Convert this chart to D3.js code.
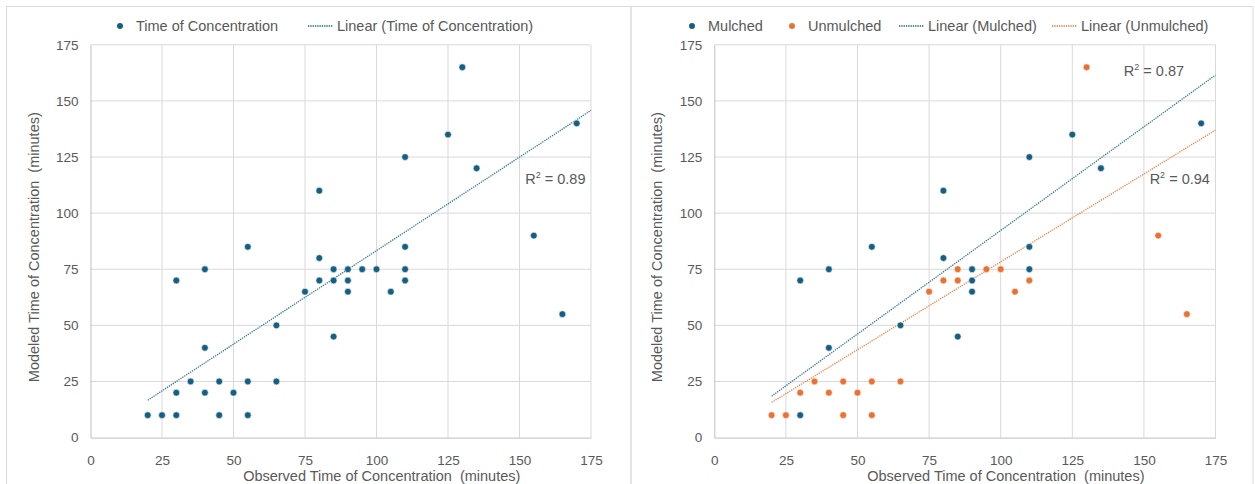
<!DOCTYPE html>
<html>
<head>
<meta charset="utf-8">
<script src="https://cdn.jsdelivr.net/npm/d3@7"></script>
<style>
  body { margin: 0; background: #fff; }
  svg { display: block; font-family: "Liberation Sans", Arial, sans-serif; }
  text { white-space: pre; }
</style>
</head>
<body>
<svg id="chart" width="1255" height="484"></svg>
<script>
// Observed vs modeled time of concentration (minutes)
const mulchedObserved = [30, 30, 40, 40, 55, 65, 80, 80, 85, 90, 90, 90, 110, 110, 110, 125, 135, 170];
const mulchedModeled  = [10, 70, 40, 75, 85, 50, 80, 110, 45, 65, 70, 75, 75, 85, 125, 135, 120, 140];

const unmulchedObserved = [20, 25, 45, 55, 30, 40, 50, 35, 45, 55, 65, 75, 80, 85, 85, 95, 100, 105, 110, 130, 155, 165];
const unmulchedModeled  = [10, 10, 10, 10, 20, 20, 20, 25, 25, 25, 25, 65, 70, 70, 75, 75, 75, 65, 70, 165, 90, 55];

// trendlines (through origin), slopes
const trendSlopeAll = 0.833;
const trendSlopeMulched = 0.923;
const trendSlopeUnmulched = 0.783;
const trendRange = [20, 175];
const rSquared = ["0.89", "0.87", "0.94"];

const ticks = [0, 25, 50, 75, 100, 125, 150, 175];

const blue = "#156082";
const orange = "#E97132";
const textColor = "#595959";
const gridColor = "#D9D9D9";

const svg = d3.select("#chart");

// panel frames
svg.append("rect").attr("x", 6.5).attr("y", 6.5).attr("width", 624.5).attr("height", 490)
    .attr("fill", "none").attr("stroke", gridColor);
svg.append("rect").attr("x", 631).attr("y", 6.5).attr("width", 622).attr("height", 490)
    .attr("fill", "none").attr("stroke", gridColor);

const zip = (xs, ys) => xs.map((x, i) => ({ x: x, y: ys[i] }));
const allPoints = zip(mulchedObserved, mulchedModeled).concat(zip(unmulchedObserved, unmulchedModeled));

function drawPanel(left, right, series, trends, labels) {
    const x = d3.scaleLinear().domain([0, 175]).range([left, right]);
    const y = d3.scaleLinear().domain([0, 175]).range([437.6, 44.8]);
    const g = svg.append("g");

    // gridlines
    g.selectAll(".hgrid").data(ticks.slice(1)).enter().append("line")
        .attr("x1", x(0)).attr("x2", x(175))
        .attr("y1", d => y(d)).attr("y2", d => y(d))
        .attr("stroke", gridColor).attr("stroke-width", 1);
    g.selectAll(".vgrid").data(ticks.slice(1)).enter().append("line")
        .attr("x1", d => x(d)).attr("x2", d => x(d))
        .attr("y1", y(0)).attr("y2", y(175))
        .attr("stroke", gridColor).attr("stroke-width", 1);

    // axes
    const xAxis = d3.axisBottom(x).tickValues(ticks).tickSize(0).tickPadding(18);
    const yAxis = d3.axisLeft(y).tickValues(ticks).tickSize(0).tickPadding(12);
    const gx = g.append("g").attr("transform", `translate(0,${y(0)})`).call(xAxis);
    const gy = g.append("g").attr("transform", `translate(${x(0)},0)`).call(yAxis);
    [gx, gy].forEach(a => {
        a.select(".domain").attr("stroke", "#BFBFBF");
        a.selectAll("text").attr("fill", textColor).style("font-size", "13.5px");
    });

    // axis titles (Excel puts them a little off the plot centre)
    g.append("text").attr("x", (x(0) + x(175)) / 2 + 41).attr("y", 481)
        .attr("text-anchor", "middle").attr("fill", textColor).style("font-size", "14.5px")
        .text("Observed Time of Concentration  (minutes)");
    g.append("text")
        .attr("transform", `translate(${x(0) - 52},${(y(0) + y(175)) / 2 + 6}) rotate(-90)`)
        .attr("text-anchor", "middle").attr("fill", textColor).style("font-size", "14.5px")
        .text("Modeled Time of Concentration  (minutes)");

    // trendlines
    trends.forEach(t => {
        g.append("line")
            .attr("x1", x(trendRange[0])).attr("y1", y(trendRange[0] * t.slope))
            .attr("x2", x(trendRange[1])).attr("y2", y(trendRange[1] * t.slope))
            .attr("stroke", t.color).attr("stroke-width", 1.3)
            .attr("stroke-dasharray", "1.3,1").attr("opacity", 0.85);
    });

    // points
    series.forEach(s => {
        g.selectAll(null).data(s.points).enter().append("circle")
            .attr("cx", d => x(d.x)).attr("cy", d => y(d.y)).attr("r", 3.4)
            .attr("fill", s.color).attr("stroke", "#fff").attr("stroke-width", 0.6);
    });

    // R² labels
    labels.forEach(l => {
        const t = g.append("text").attr("x", x(l.x)).attr("y", y(l.y))
            .attr("fill", textColor).style("font-size", "14.5px");
        t.append("tspan").text("R");
        t.append("tspan").attr("dy", -6).style("font-size", "9px").text("2");
        t.append("tspan").attr("dy", 6).text(" = " + l.text);
    });
    return g;
}

drawPanel(90.5, 591, [{ points: allPoints, color: blue }],
    [{ slope: trendSlopeAll, color: blue }],
    [{ x: 152, y: 113.2, text: rSquared[0] }]);

drawPanel(714.3, 1215.5,
    [{ points: zip(mulchedObserved, mulchedModeled), color: blue },
     { points: zip(unmulchedObserved, unmulchedModeled), color: orange }],
    [{ slope: trendSlopeMulched, color: blue }, { slope: trendSlopeUnmulched, color: orange }],
    [{ x: 143, y: 161.3, text: rSquared[1] }, { x: 152, y: 113.2, text: rSquared[2] }]);

// legends
function legend(items) {
    items.forEach(it => {
        if (it.type === "dot") {
            svg.append("circle").attr("cx", it.x).attr("cy", 26).attr("r", 3).attr("fill", it.color);
            svg.append("text").attr("x", it.x + 16).attr("y", 31).attr("fill", textColor)
                .style("font-size", "14.5px").text(it.label);
        } else {
            svg.append("line").attr("x1", it.x).attr("x2", it.x + 25).attr("y1", 26).attr("y2", 26)
                .attr("stroke", it.color).attr("stroke-width", 1.3).attr("stroke-dasharray", "1.3,1");
            svg.append("text").attr("x", it.x + 29).attr("y", 31).attr("fill", textColor)
                .style("font-size", "14.5px").text(it.label);
        }
    });
}
legend([
    { type: "dot", x: 120, color: blue, label: "Time of Concentration" },
    { type: "line", x: 308, color: blue, label: "Linear (Time of Concentration)" }
]);
legend([
    { type: "dot", x: 692, color: blue, label: "Mulched" },
    { type: "dot", x: 792, color: orange, label: "Unmulched" },
    { type: "line", x: 899, color: blue, label: "Linear (Mulched)" },
    { type: "line", x: 1052, color: orange, label: "Linear (Unmulched)" }
]);
</script>
</body>
</html>
